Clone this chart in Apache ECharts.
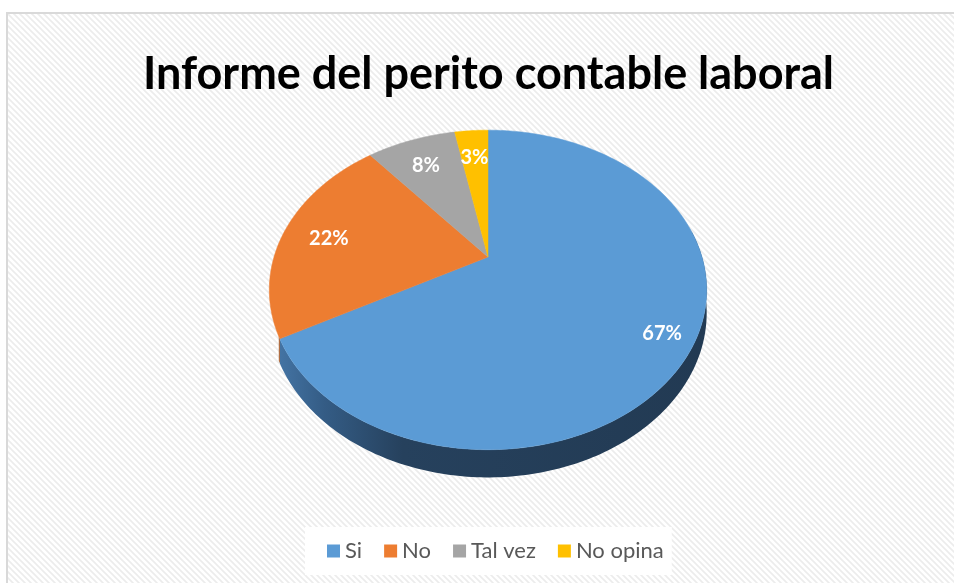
<!DOCTYPE html>
<html>
<head>
<meta charset="utf-8">
<script src="https://cdn.jsdelivr.net/npm/echarts@6/dist/echarts.min.js"></script>
<style>
  html, body { margin: 0; padding: 0; background: #fff; }
  #chart { width: 954px; height: 583px; }
</style>
</head>
<body>
<div id="chart"></div>
<script>
// datos del grafico
const categories = ['Si', 'No', 'Tal vez', 'No opina'];
const values = [67, 22, 8, 3];
const colors = ['#5B9BD5', '#ED7D31', '#A5A5A5', '#FFC000'];
const sideColors = ['#2A4A6B', '#A8561E', '#6E6E6E', '#B38600'];

const total = values.reduce((a, b) => a + b, 0);

// geometria de la torta 3D (perspectiva)
const CX = 488, CY = 257;
const A = 214, B = 153, K = 0.206, DROP = 22;
// rango de angulos donde se ve el costado
const SIDE_FROM = 80 * Math.PI / 180, SIDE_TO = 242 * Math.PI / 180;

function proj(theta, r, drop) {
  const u = r * Math.sin(theta);
  const v = -r * Math.cos(theta);
  const s = 1 / (1 - K * v);
  return [CX + A * u * s, CY + B * v * s + drop * s];
}

function sliceAngles(idx) {
  let start = 0;
  for (let i = 0; i < idx; i++) start += values[i];
  const a1 = start / total * Math.PI * 2;
  const a2 = (start + values[idx]) / total * Math.PI * 2;
  return [a1, a2];
}

function arcPoints(a1, a2, r, drop) {
  const pts = [];
  const n = Math.max(2, Math.ceil((a2 - a1) / (Math.PI / 180)));
  for (let i = 0; i <= n; i++) {
    pts.push(proj(a1 + (a2 - a1) * i / n, r, drop));
  }
  return pts;
}

// patron rayado del fondo
function makePattern() {
  const c = document.createElement('canvas');
  c.width = 6; c.height = 6;
  const g = c.getContext('2d');
  g.fillStyle = '#ffffff';
  g.fillRect(0, 0, 6, 6);
  g.strokeStyle = '#ececec';
  g.lineWidth = 1.6;
  g.beginPath();
  g.moveTo(-1, -1); g.lineTo(7, 7);
  g.moveTo(-4, 2); g.lineTo(4, 10);
  g.moveTo(2, -4); g.lineTo(10, 4);
  g.stroke();
  return c;
}

const chart = echarts.init(document.getElementById('chart'));

// lados (debajo)
const sideSeries = {
  type: 'custom',
  coordinateSystem: 'none',
  silent: true,
  z: 2,
  data: values,
  renderItem(params, api) {
    const idx = params.dataIndex;
    let [a1, a2] = sliceAngles(idx);
    a1 = Math.max(a1, SIDE_FROM);
    a2 = Math.min(a2, SIDE_TO);
    if (a2 <= a1) return null;
    const top = arcPoints(a1, a2, 1, 0);
    const bottom = arcPoints(a1, a2, 1, DROP).reverse();
    let fill = sideColors[idx];
    if (idx === 0) {
      fill = {
        type: 'linear', x: 272, y: 0, x2: 708, y2: 0, global: true,
        colorStops: [
          { offset: 0, color: '#4677A8' },
          { offset: 0.12, color: '#345C85' },
          { offset: 0.3, color: '#26415D' },
          { offset: 1, color: '#223A53' }
        ]
      };
    }
    return {
      type: 'polygon',
      shape: { points: top.concat(bottom) },
      style: { fill: fill, stroke: null }
    };
  }
};

// caras superiores, una serie por categoria para la leyenda
const topSeries = categories.map((name, idx) => ({
  name: name,
  type: 'custom',
  coordinateSystem: 'none',
  z: 3,
  itemStyle: { color: colors[idx] },
  data: [values[idx]],
  renderItem(params, api) {
    const [a1, a2] = sliceAngles(idx);
    const pts = [[CX, CY]].concat(arcPoints(a1, a2, 1, 0));
    const mid = (a1 + a2) / 2;
    const lp = proj(mid, idx === 0 ? 0.86 : 0.78, 0);
    const pct = Math.round(api.value(0) / total * 100) + '%';
    return {
      type: 'group',
      children: [
        {
          type: 'polygon',
          shape: { points: pts },
          style: { fill: colors[idx], stroke: colors[idx], lineWidth: 0.5 }
        },
        {
          type: 'text',
          x: lp[0], y: lp[1] + 3,
          style: {
            text: pct,
            fill: '#ffffff',
            font: 'bold 20px Lato, "Open Sans", sans-serif',
            align: 'center',
            verticalAlign: 'middle'
          }
        }
      ]
    };
  }
}));

chart.setOption({
  animation: false,
  title: {
    text: 'Informe del perito contable laboral',
    left: 143,
    top: 52,
    padding: 0,
    textStyle: {
      fontFamily: 'Lato, "Open Sans", sans-serif',
      fontWeight: 'bold',
      fontSize: 45,
      color: '#000000'
    }
  },
  graphic: [
    {
      type: 'rect',
      z: -10,
      silent: true,
      shape: { x: 7, y: 13, width: 960, height: 590 },
      style: { fill: { image: makePattern(), repeat: 'repeat' }, stroke: '#D9D9D9', lineWidth: 2 }
    }
  ],
  legend: {
    data: categories,
    left: 305,
    top: 527,
    backgroundColor: '#ffffff',
    padding: [13, 8, 13, 22],
    icon: 'rect',
    itemWidth: 13,
    itemHeight: 13,
    itemGap: 22,
    textStyle: {
      fontFamily: 'Lato, "Open Sans", sans-serif',
      fontSize: 22,
      color: '#595959'
    }
  },
  series: [sideSeries].concat(topSeries)
});
</script>
</body>
</html>
